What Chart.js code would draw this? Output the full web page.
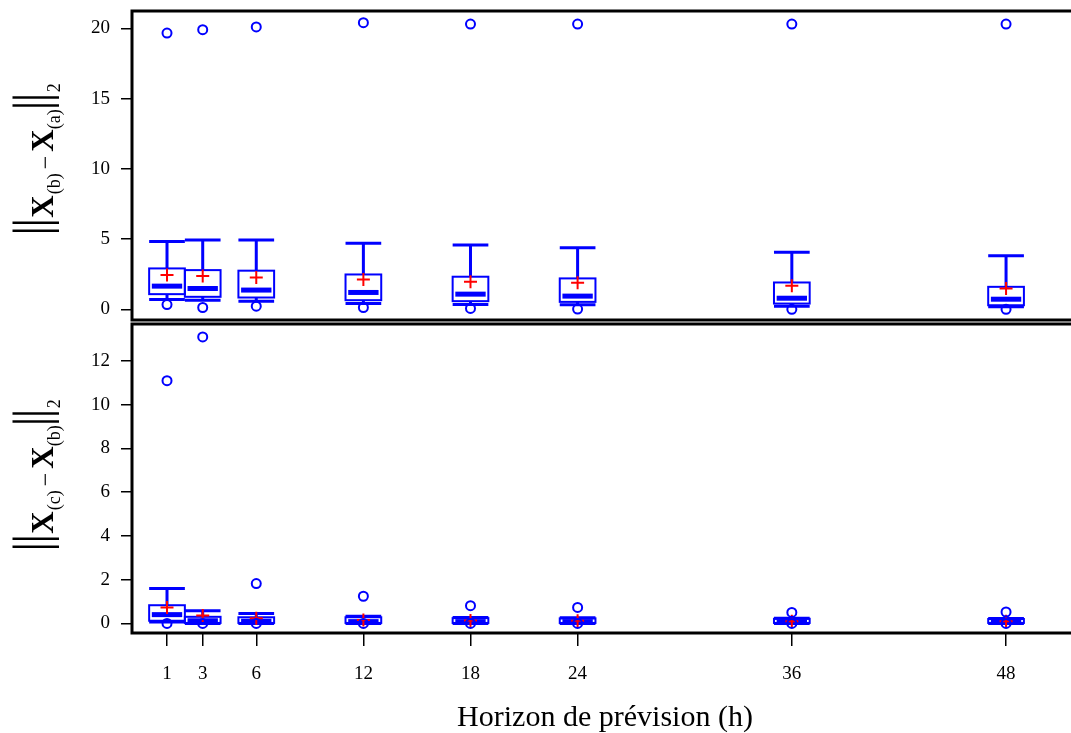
<!DOCTYPE html>
<html lang="fr">
<head>
<meta charset="UTF-8">
<title>Horizon de prévision</title>
<script src="https://cdn.jsdelivr.net/npm/chart.js"></script>
<style>
  html, body { margin: 0; padding: 0; background: #fff; overflow: hidden; }
  #wrap { position: relative; width: 1080px; height: 733px; }
  #haut { position: absolute; left: 0; top: 0; }
  #bas { position: absolute; left: 0; top: 322px; }
</style>
</head>
<body>
<div id="wrap">
  <canvas id="haut" width="1080" height="322"></canvas>
  <canvas id="bas" width="1080" height="411"></canvas>
</div>

<script>
// horizons (h)
const horizons = [1, 3, 6, 12, 18, 24, 36, 48];
const ticksX = [1, 3, 6, 12, 18, 24, 36, 48];

// panneau du haut : ||X(b) - X(a)||2
const hautMoustacheHaute = [4.82, 4.94, 4.94, 4.70, 4.58, 4.39, 4.06, 3.82];
const hautQ3 = [2.91, 2.79, 2.75, 2.48, 2.32, 2.20, 1.91, 1.60];
const hautMediane = [1.65, 1.48, 1.37, 1.20, 1.08, 0.94, 0.79, 0.72];
const hautQ1 = [1.08, 0.89, 0.84, 0.65, 0.58, 0.53, 0.41, 0.29];
const hautMoustacheBasse = [0.70, 0.65, 0.58, 0.41, 0.34, 0.32, 0.22, 0.18];
const hautMoyenne = [2.44, 2.37, 2.27, 2.13, 1.96, 1.89, 1.68, 1.48];
const hautExtremeHaut = [19.66, 19.9, 20.1, 20.4, 20.3, 20.3, 20.3, 20.3];
const hautExtremeBas = [0.34, 0.13, 0.22, 0.13, 0.06, 0.02, 0.0, 0.0];
const ticksYHaut = [0, 5, 10, 15, 20];

// panneau du bas : ||X(c) - X(b)||2
const basMoustacheHaute = [1.59, 0.58, 0.45, 0.33, 0.27, 0.26, 0.23, 0.22];
const basQ3 = [0.83, 0.30, 0.28, 0.28, 0.24, 0.23, 0.21, 0.20];
const basMediane = [0.40, 0.12, 0.10, 0.08, 0.08, 0.08, 0.07, 0.07];
const basQ1 = [0.12, 0.02, 0.02, 0.02, 0.02, 0.02, 0.02, 0.02];
const basMoustacheBasse = [0.06, 0.0, 0.0, 0.0, 0.0, 0.0, 0.0, 0.0];
const basMoyenne = [0.73, 0.36, 0.24, 0.15, 0.13, 0.12, 0.10, 0.10];
const basExtremeHaut = [11.1, 13.1, 1.82, 1.24, 0.81, 0.73, 0.50, 0.52];
const basExtremeBas = [0.0, 0.0, 0.0, 0.0, 0.0, 0.0, 0.0, 0.0];
const ticksYBas = [0, 2, 4, 6, 8, 10, 12];

const BLEU = '#0000FF';
const ROUGE = '#FF0000';
const POLICE = '"Liberation Serif", "DejaVu Serif", serif';

// boites a moustaches dessinees avec les echelles du graphique
const pluginBoites = {
  id: 'boites',
  beforeDatasetsDraw(chart, args, o) {
    const { ctx, scales: { x, y } } = chart;
    ctx.save();
    ctx.strokeStyle = BLEU;
    ctx.lineCap = 'butt';
    horizons.forEach((h, i) => {
      const xg = x.getPixelForValue(h - 1);
      const xd = x.getPixelForValue(h + 1);
      const xc = x.getPixelForValue(h);
      const yMh = y.getPixelForValue(o.mh[i]);
      const yQ3 = y.getPixelForValue(o.q3[i]);
      const yMed = y.getPixelForValue(o.med[i]);
      const yQ1 = y.getPixelForValue(o.q1[i]);
      const yMb = y.getPixelForValue(o.mb[i]);

      // moustaches
      ctx.lineWidth = 3;
      ctx.beginPath();
      ctx.moveTo(xc, yQ3); ctx.lineTo(xc, yMh);
      ctx.moveTo(xc, yQ1); ctx.lineTo(xc, yMb);
      ctx.moveTo(xg, yMh); ctx.lineTo(xd, yMh);
      ctx.moveTo(xg, yMb); ctx.lineTo(xd, yMb);
      ctx.stroke();

      // boite
      ctx.lineWidth = 2;
      ctx.strokeRect(xg, yQ3, xd - xg, yQ1 - yQ3);

      // mediane
      const xmg = x.getPixelForValue(h - 0.85);
      const xmd = x.getPixelForValue(h + 0.85);
      ctx.lineWidth = 5;
      ctx.beginPath();
      ctx.moveTo(xmg, yMed); ctx.lineTo(xmd, yMed);
      ctx.stroke();
    });
    ctx.restore();
  }
};

// cadre noir autour de la zone de trace
const pluginCadre = {
  id: 'cadre',
  afterDraw(chart) {
    const { ctx, chartArea: a } = chart;
    ctx.save();
    ctx.strokeStyle = '#000';
    ctx.lineWidth = 3;
    ctx.strokeRect(a.left, a.top, a.right - a.left, a.bottom - a.top);
    ctx.restore();
  }
};

// titre vertical avec indices : ||X(b) - X(a)||2
const pluginTitreY = {
  id: 'titreY',
  afterDraw(chart, args, o) {
    const { ctx, chartArea: a } = chart;
    const base = o.x;
    ctx.save();

    // taille de la barre ajustee pour couvrir de x=12 a x=59
    ctx.font = '46px ' + POLICE;
    const mb = ctx.measureText('|');
    const hb = mb.actualBoundingBoxAscent + mb.actualBoundingBoxDescent;
    const tb = 46 * 47 / hb;
    ctx.font = tb + 'px ' + POLICE;
    const mb2 = ctx.measureText('|');
    const dyBarre = (59 - base) - mb2.actualBoundingBoxDescent;

    const barre = { t: '|', f: tb + 'px ' + POLICE, dy: dyBarre, w: 8, centre: true };
    const morceaux = [
      barre, barre,
      { t: 'X', f: 'bold 31px ' + POLICE, dy: 0, marge: 1 },
      { t: '(' + o.i1 + ')', f: '18px ' + POLICE, dy: 7 },
      { t: '\u2212', f: '24px ' + POLICE, dy: 0, marge: 4 },
      { t: 'X', f: 'bold 31px ' + POLICE, dy: 0 },
      { t: '(' + o.i2 + ')', f: '18px ' + POLICE, dy: 7 },
      barre, barre,
      { t: '2', f: '18px ' + POLICE, dy: 7, marge: 1 }
    ];
    let total = 0;
    const larg = morceaux.map(m => {
      ctx.font = m.f;
      const w = m.w || (ctx.measureText(m.t).width + 2 * (m.marge || 0));
      total += w;
      return w;
    });
    ctx.translate(base, (a.top + a.bottom) / 2 + o.decal);
    ctx.rotate(-Math.PI / 2);
    ctx.fillStyle = '#000';
    ctx.textBaseline = 'alphabetic';
    let u = -total / 2;
    morceaux.forEach((m, i) => {
      ctx.font = m.f;
      if (m.centre) {
        ctx.textAlign = 'center';
        ctx.fillText(m.t, u + larg[i] / 2, m.dy);
      } else {
        ctx.textAlign = 'left';
        ctx.fillText(m.t, u + (m.marge || 0), m.dy);
      }
      u += larg[i];
    });
    ctx.restore();
  }
};

function points(xs, ys) {
  return xs.map((h, i) => ({ x: h, y: ys[i] }));
}

function creerGraphique(id, d) {
  return new Chart(document.getElementById(id), {
    type: 'scatter',
    data: {
      datasets: [
        {
          data: points(horizons, d.extHaut).concat(points(horizons, d.extBas)),
          pointStyle: 'circle',
          pointRadius: 4.5,
          borderColor: BLEU,
          borderWidth: 2,
          backgroundColor: 'rgba(0,0,0,0)'
        },
        {
          data: points(horizons, d.moy),
          pointStyle: 'cross',
          pointRadius: 6.5,
          borderColor: ROUGE,
          borderWidth: 2
        }
      ]
    },
    options: {
      responsive: false,
      animation: false,
      events: [],
      layout: { padding: d.padding, autoPadding: false },
      plugins: {
        legend: { display: false },
        tooltip: { enabled: false },
        boites: { mh: d.mh, q3: d.q3, med: d.med, q1: d.q1, mb: d.mb },
        titreY: { i1: d.i1, i2: d.i2, x: 53, decal: d.decal }
      },
      scales: {
        x: {
          type: 'linear',
          min: -0.961,
          max: 52.03,
          display: d.axeX,
          afterBuildTicks: s => { s.ticks = ticksX.map(v => ({ value: v })); },
          afterFit: s => {
            if (d.axeX) s.height = 100;
            s.paddingLeft = 0; s.paddingRight = 0;
          },
          border: { display: false },
          grid: { drawOnChartArea: false, color: '#000', lineWidth: 1.5, tickLength: 13 },
          ticks: { color: '#000', font: { family: POLICE, size: 19 }, padding: 17, maxRotation: 0 },
          title: {
            display: true,
            text: 'Horizon de prévision (h)',
            color: '#000',
            font: { family: POLICE, size: 30, lineHeight: 1 },
            padding: { top: 0, bottom: 0 }
          }
        },
        y: {
          min: d.ymin,
          max: d.ymax,
          afterBuildTicks: s => { s.ticks = d.ticksY.map(v => ({ value: v })); },
          afterFit: s => {
            s.width = 132;
            s.paddingTop = 0; s.paddingBottom = 0;
          },
          border: { display: false },
          grid: { drawOnChartArea: false, color: '#000', lineWidth: 1.5, tickLength: 11 },
          ticks: { color: '#000', font: { family: POLICE, size: 19 }, padding: 11 }
        }
      }
    },
    plugins: [pluginBoites, pluginCadre, pluginTitreY]
  });
}

creerGraphique('haut', {
  mh: hautMoustacheHaute, q3: hautQ3, med: hautMediane, q1: hautQ1, mb: hautMoustacheBasse,
  moy: hautMoyenne, extHaut: hautExtremeHaut, extBas: hautExtremeBas,
  ticksY: ticksYHaut, ymin: -0.76, ymax: 21.23,
  axeX: false, padding: { top: 11, bottom: 2, left: 0, right: 2 },
  i1: 'b', i2: 'a', decal: -7
});

creerGraphique('bas', {
  mh: basMoustacheHaute, q3: basQ3, med: basMediane, q1: basQ1, mb: basMoustacheBasse,
  moy: basMoyenne, extHaut: basExtremeHaut, extBas: basExtremeBas,
  ticksY: ticksYBas, ymin: -0.44, ymax: 13.69,
  axeX: true, padding: { top: 2, bottom: 0, left: 0, right: 2 },
  i1: 'c', i2: 'b', decal: -4
});
</script>
</body>
</html>
